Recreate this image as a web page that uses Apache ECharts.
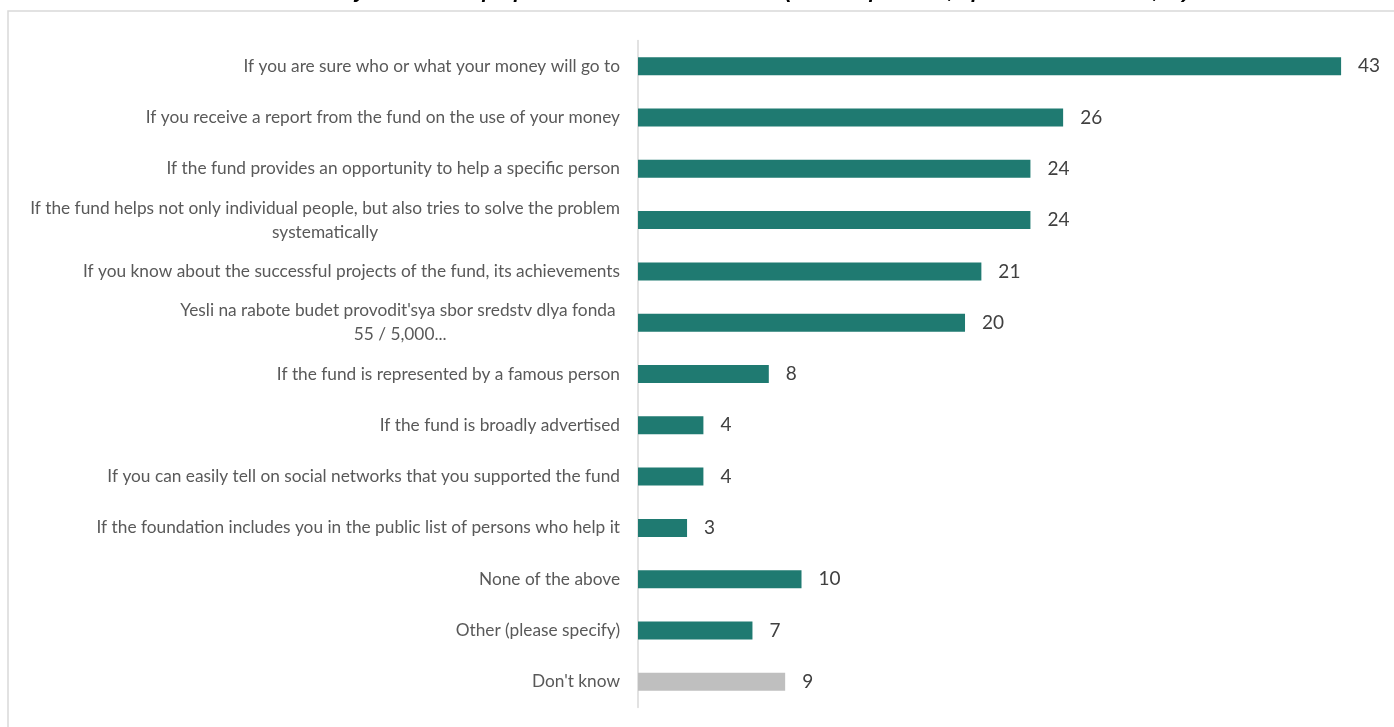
<!DOCTYPE html>
<html>
<head>
<meta charset="utf-8">
<script src="https://cdn.jsdelivr.net/npm/echarts@6/dist/echarts.min.js"></script>
<style>
  html, body { margin: 0; padding: 0; background: #fff; }
  #chart { width: 1394px; height: 727px; }
</style>
</head>
<body>
<div id="chart"></div>
<script>
// Answer options, top to bottom
const categories = [
  "If you are sure who or what your money will go to",
  "If you receive a report from the fund on the use of your money",
  "If the fund provides an opportunity to help a specific person",
  "If the fund helps not only individual people, but also tries to solve the problem\nsystematically",
  "If you know about the successful projects of the fund, its achievements",
  "Yesli na rabote budet provodit'sya sbor sredstv dlya fonda \n55 / 5,000...",
  "If the fund is represented by a famous person",
  "If the fund is broadly advertised",
  "If you can easily tell on social networks that you supported the fund",
  "If the foundation includes you in the public list of persons who help it",
  "None of the above",
  "Other (please specify)",
  "Don't know"
];

// Share of respondents, %
const values = [43, 26, 24, 24, 21, 20, 8, 4, 4, 3, 10, 7, 9];

// Options rendered in grey instead of the main colour
const neutralCategories = ["Don't know"];

const titleText = "Under what conditions would you be more prepared to donate to the fund (closed question, up to three answers, %)";

const MAIN = '#1F7A71';
const NEUTRAL = '#BFBFBF';

const chart = echarts.init(document.getElementById('chart'));

const seriesData = categories.map((c, i) => ({
  value: values[i],
  itemStyle: { color: neutralCategories.includes(c) ? NEUTRAL : MAIN }
}));

chart.setOption({
  animation: false,
  textStyle: { fontFamily: 'Lato' },
  title: {
    text: titleText,
    left: 58,
    top: -23,
    textStyle: {
      fontFamily: 'Liberation Sans',
      fontSize: 20.5,
      fontWeight: 'bold',
      fontStyle: 'italic',
      color: '#000'
    }
  },
  graphic: [{
    type: 'rect',
    silent: true,
    z: -1,
    shape: { x: 8, y: 11, width: 1420, height: 760 },
    style: { fill: 'none', stroke: '#D9D9D9', lineWidth: 1.5 }
  }],
  grid: {
    left: 638,
    top: 40.5,
    width: 735.8,
    height: 667,
    containLabel: false
  },
  xAxis: {
    type: 'value',
    min: 0,
    max: 45,
    show: false
  },
  yAxis: {
    type: 'category',
    data: categories,
    inverse: true,
    axisLine: { show: true, lineStyle: { color: '#D9D9D9', width: 1.5 } },
    axisTick: { show: false },
    splitLine: { show: false },
    axisLabel: {
      margin: 18,
      fontFamily: 'Lato',
      fontSize: 17.3,
      color: '#595959',
      lineHeight: 24,
      formatter: (v) => v.split('\n').map(s => '{c|' + s + '}').join('\n'),
      rich: {
        c: { align: 'center', fontFamily: 'Lato', fontSize: 17.3, color: '#595959', lineHeight: 24 }
      }
    }
  },
  series: [{
    type: 'bar',
    data: seriesData,
    barWidth: 18,
    label: {
      show: true,
      position: 'right',
      distance: 17,
      fontFamily: 'Lato',
      fontSize: 19,
      color: '#404040'
    }
  }]
});
</script>
</body>
</html>
